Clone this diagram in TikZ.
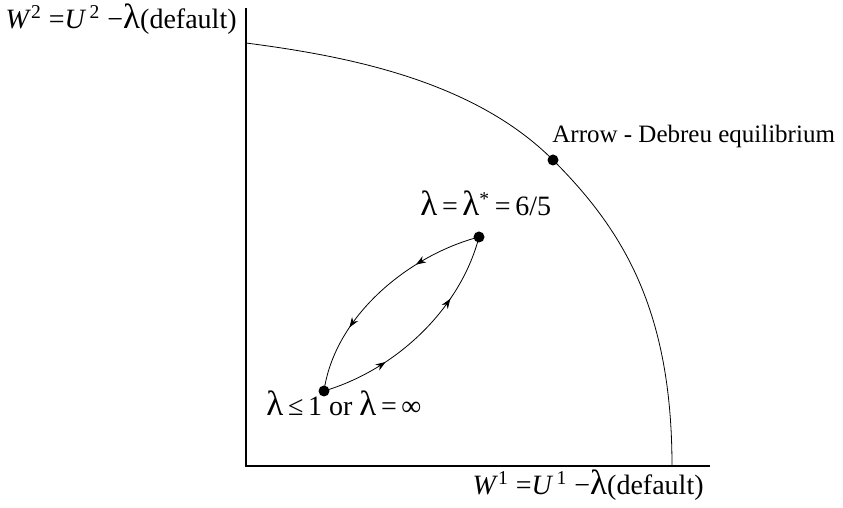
\documentclass[tikz,border=0pt]{standalone}
\usepackage{fontspec}
\setmainfont{Liberation Serif}
\usetikzlibrary{arrows.meta,decorations.markings}
% grosse lambda
\newcommand{\lam}{{\fontsize{17.5}{17}\selectfont λ}}

\begin{document}
\begin{tikzpicture}[x=0.5pt,y=-0.5pt,
    font=\fontsize{12.5}{14}\selectfont,
    >={Stealth[length=5pt,width=3.6pt,inset=1.6pt]},
    dot/.style={circle,fill=black,inner sep=0pt,minimum size=5.5pt},
    lbl/.style={inner sep=0pt},
    mlbl/.style={inner sep=0pt,font=\fontsize{14}{16}\selectfont},
    flow/.style={postaction={decorate},decoration={markings,
        mark=at position 0.3 with {\arrow{>}},
        mark=at position 0.7 with {\arrow{>}}}}]
    \useasboundingbox (0,0) rectangle (843,508);
    % ejes
    \coordinate (o) at (246,466);
    \coordinate (ytop) at (246,8);
    \coordinate (xend) at (710,466);
    \draw[semithick] (ytop) -- (o) -- (xend);
    % frontera
    \coordinate (fa) at (246,43);
    \coordinate (fb) at (553,160);
    \coordinate (fc) at (672,466);
    \draw (fa) .. controls (346,56) and (473,80) .. (fb)
               .. controls (623,230) and (672,310) .. (fc);
    % puntos
    \node[dot] (ad) at (fb) {};
    \node[dot] (lstar) at (479,237) {};
    \node[dot] (lone) at (324,391) {};
    % ciclo entre los dos puntos
    \draw[flow] (lstar.center) .. controls (410,255) and (335,315) .. (lone.center);
    \draw[flow] (lone.center) .. controls (395,370) and (460,310) .. (lstar.center);
    % textos
    \node[mlbl,anchor=base east] (wtwo) at (237,29)
        {\textit{W}\textsuperscript{2} =\textit{U}\textsuperscript{\,2} −\lam(default)};
    \node[mlbl,anchor=base east] (wone) at (704,495)
        {\textit{W}\textsuperscript{1} =\textit{U}\textsuperscript{\,1} −\lam(default)};
    \node[lbl,anchor=base west] (adlbl) at (552,143) {Arrow - Debreu equilibrium};
    \node[mlbl,anchor=base west] (starlbl) at (420,216)
        {\lam\,=\,\lam\textsuperscript{*}\,=\,6/5};
    \node[mlbl,anchor=base west] (onelbl) at (266,416)
        {\lam\,≤\,1 or \lam\,=\,∞};
\end{tikzpicture}
\end{document}
